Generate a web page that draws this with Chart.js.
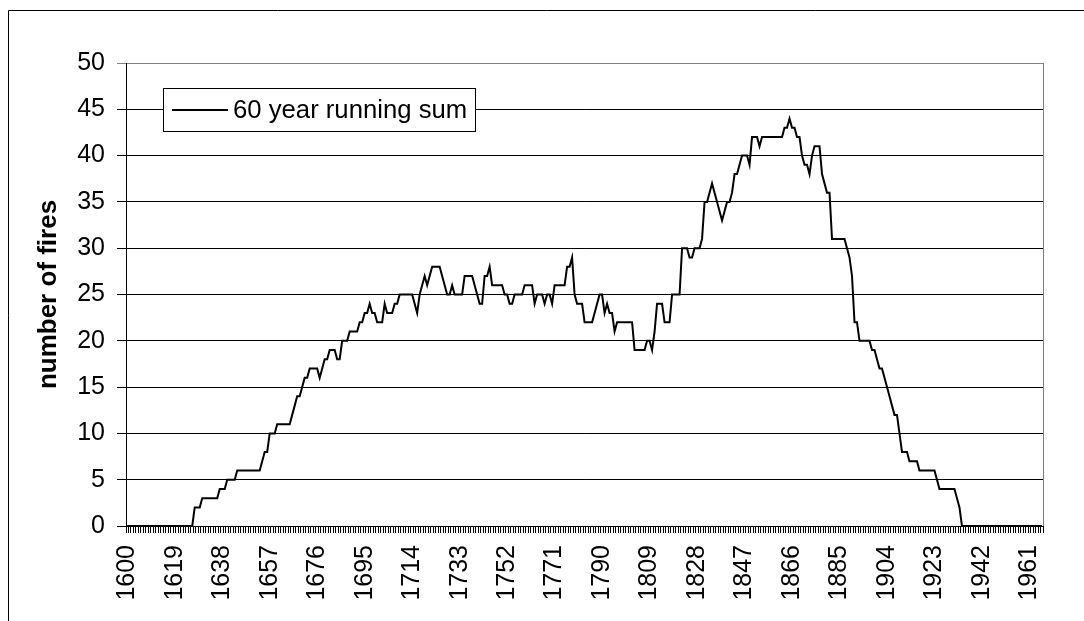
<!DOCTYPE html>
<html>
<head>
<meta charset="utf-8">
<script src="https://cdn.jsdelivr.net/npm/chart.js@4.4.1/dist/chart.umd.min.js"></script>
<style>
  html, body { margin: 0; padding: 0; background: #fff; }
  canvas { display: block; }
</style>
</head>
<body>
<canvas id="fireChart" width="1084" height="621"></canvas>
<script>
const firstYear = 1600;
const lastYear = 1966;
const labelStep = 19;
const years = [];
for (let y = firstYear; y <= lastYear; y++) years.push(String(y));

const seriesName = "60 year running sum";
const runningSum = [
  0, 0, 0, 0, 0, 0, 0, 0, 0, 0,        // 1600
  0, 0, 0, 0, 0, 0, 0, 0, 0, 0,        // 1610
  0, 0, 0, 0, 0, 0, 0, 2, 2, 2,        // 1620
  3, 3, 3, 3, 3, 3, 3, 4, 4, 4,        // 1630
  5, 5, 5, 5, 6, 6, 6, 6, 6, 6,        // 1640
  6, 6, 6, 6, 7, 8, 8, 10, 10, 10,     // 1650
  11, 11, 11, 11, 11, 11, 12, 13, 14, 14, // 1660
  15, 16, 16, 17, 17, 17, 17, 16, 17, 18, // 1670
  18, 19, 19, 19, 18, 18, 20, 20, 20, 21, // 1680
  21, 21, 21, 22, 22, 23, 23, 24, 23, 23, // 1690
  22, 22, 22, 24, 23, 23, 23, 24, 24, 25, // 1700
  25, 25, 25, 25, 25, 24, 23, 25, 26, 27, // 1710
  26, 27, 28, 28, 28, 28, 27, 26, 25, 25, // 1720
  26, 25, 25, 25, 25, 27, 27, 27, 27, 26, // 1730
  25, 24, 24, 27, 27, 28, 26, 26, 26, 26, // 1740
  26, 25, 25, 24, 24, 25, 25, 25, 25, 26, // 1750
  26, 26, 26, 24, 25, 25, 25, 24, 25, 25, // 1760
  24, 26, 26, 26, 26, 26, 28, 28, 29, 25, // 1770
  24, 24, 24, 22, 22, 22, 22, 23, 24, 25, // 1780
  25, 23, 24, 23, 23, 21, 22, 22, 22, 22, // 1790
  22, 22, 22, 19, 19, 19, 19, 19, 20, 20, // 1800
  19, 21, 24, 24, 24, 22, 22, 22, 25, 25, // 1810
  25, 25, 30, 30, 30, 29, 29, 30, 30, 30, // 1820
  31, 35, 35, 36, 37, 36, 35, 34, 33, 34, // 1830
  35, 35, 36, 38, 38, 39, 40, 40, 40, 39, // 1840
  42, 42, 42, 41, 42, 42, 42, 42, 42, 42, // 1850
  42, 42, 42, 43, 43, 44, 43, 43, 42, 42, // 1860
  40, 39, 39, 38, 40, 41, 41, 41, 38, 37, // 1870
  36, 36, 31, 31, 31, 31, 31, 31, 30, 29, // 1880
  27, 22, 22, 20, 20, 20, 20, 20, 19, 19, // 1890
  18, 17, 17, 16, 15, 14, 13, 12, 12, 10, // 1900
  8, 8, 8, 7, 7, 7, 7, 6, 6, 6,        // 1910
  6, 6, 6, 6, 5, 4, 4, 4, 4, 4,        // 1920
  4, 4, 3, 2, 0, 0, 0, 0, 0, 0,        // 1930
  0, 0, 0, 0, 0, 0, 0, 0, 0, 0,        // 1940
  0, 0, 0, 0, 0, 0, 0, 0, 0, 0,        // 1950
  0, 0, 0, 0, 0, 0, 0                  // 1960
];

const yMin = 0;
const yMax = 50;
const yStep = 5;
const yTitle = "number of fires";

const FONT = "'Liberation Sans', Arial, sans-serif";

// page frame, right border of plot and the boxed legend
const decorations = {
  id: "decorations",
  beforeDraw(chart) {
    const c = chart.ctx;
    c.save();
    c.fillStyle = "#fff";
    c.fillRect(0, 0, chart.width, chart.height);
    c.restore();
  },
  afterDraw(chart) {
    const c = chart.ctx;
    const area = chart.chartArea;
    c.save();
    // outer frame (top and left edges visible)
    c.strokeStyle = "#000";
    c.lineWidth = 1;
    c.beginPath();
    c.moveTo(8.5, chart.height);
    c.lineTo(8.5, 10.5);
    c.lineTo(chart.width, 10.5);
    c.stroke();
    // right plot border
    c.strokeStyle = "#808080";
    c.beginPath();
    c.moveTo(Math.round(area.right) + 0.5, area.top);
    c.lineTo(Math.round(area.right) + 0.5, area.bottom);
    c.stroke();
    // legend
    const lx = 163.5, ly = 88.5, lw = 312, lh = 43;
    c.fillStyle = "#fff";
    c.fillRect(lx, ly, lw, lh);
    c.strokeStyle = "#000";
    c.lineWidth = 1;
    c.strokeRect(lx, ly, lw, lh);
    c.lineWidth = 2;
    c.beginPath();
    c.moveTo(172, 110);
    c.lineTo(228, 110);
    c.stroke();
    c.fillStyle = "#000";
    c.font = "25.7px " + FONT;
    c.textBaseline = "middle";
    c.textAlign = "left";
    c.fillText(chart.data.datasets[0].label, 233, 111);
    c.restore();
  }
};

const ctx = document.getElementById("fireChart").getContext("2d");
const fireChart = new Chart(ctx, {
  type: "line",
  data: {
    labels: years,
    datasets: [
      {
        label: seriesName,
        data: runningSum,
        borderColor: "#000",
        borderWidth: 2,
        pointRadius: 0,
        tension: 0,
        fill: false,
      },
    ],
  },
  options: {
    responsive: false,
    animation: false,
    devicePixelRatio: 1,
    layout: {
      padding: { top: 63, right: 40, left: 0, bottom: 0 },
    },
    scales: {
      x: {
        type: "category",
        offset: true,
        grid: {
          display: true,
          drawOnChartArea: false,
          offset: true,
          color: "#000",
          lineWidth: 1,
          tickLength: 7,
        },
        border: { display: true, color: "#000", width: 1 },
        ticks: {
          autoSkip: false,
          minRotation: 90,
          maxRotation: 90,
          padding: 12,
          color: "#000",
          font: { family: FONT, size: 25 },
          callback: function (value, index) {
            return index % labelStep === 0 ? this.getLabelForValue(value) : "";
          },
        },
        afterFit: function (scale) {
          scale.height = 95;
        },
      },
      y: {
        min: yMin,
        max: yMax,
        grid: {
          color: function (c) {
            return c.tick && c.tick.value === yMax ? "#808080" : "#000";
          },
          lineWidth: 1,
          tickLength: 9,
        },
        border: { display: true, color: "#000", width: 1 },
        ticks: {
          stepSize: yStep,
          padding: 12,
          color: "#000",
          font: { family: FONT, size: 25 },
        },
        title: {
          display: true,
          text: yTitle,
          color: "#000",
          font: { family: FONT, size: 26, weight: "bold" },
          padding: { top: 33, bottom: 0 },
        },
        afterFit: function (scale) {
          scale.width = 126;
        },
      },
    },
    plugins: {
      legend: { display: false },
      tooltip: { enabled: false },
    },
  },
  plugins: [decorations],
});
</script>
</body>
</html>
